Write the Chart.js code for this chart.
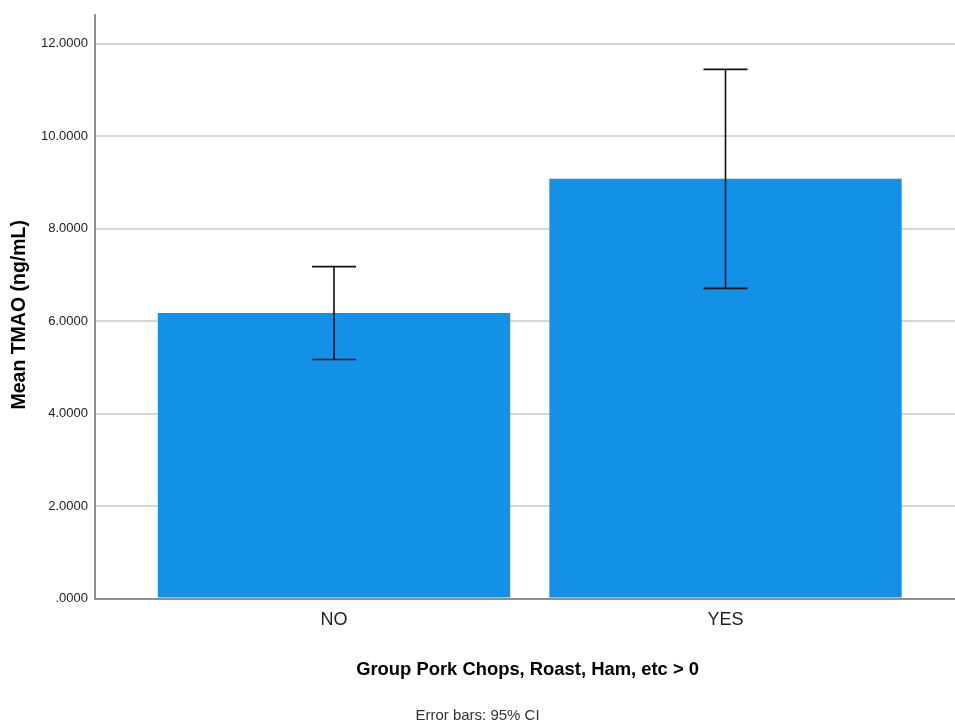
<!DOCTYPE html>
<html>
<head>
<meta charset="utf-8">
<script src="https://cdn.jsdelivr.net/npm/chart.js@4.4.1/dist/chart.umd.min.js"></script>
<style>
  body { margin: 0; background: #fff; }
  #wrap { width: 955px; height: 727px; position: relative; }
</style>
</head>
<body>
<div id="wrap"><canvas id="myChart"></canvas></div>
<script>
// data
const categories = ['NO', 'YES'];
const means = [6.18, 9.08];
const ciLower = [5.17, 6.71];
const ciUpper = [7.18, 11.45];
const yTicks = [0, 2, 4, 6, 8, 10, 12];

const plain = "'Liberation Sans', Arial, sans-serif";

// error bars with caps, drawn through the chart scales
const errorBars = {
  id: 'errorBars',
  afterDatasetsDraw(chart) {
    const ctx = chart.ctx;
    const xs = chart.scales.x, ys = chart.scales.y;
    ctx.save();
    ctx.strokeStyle = '#111';
    ctx.lineWidth = 1.6;
    categories.forEach((c, i) => {
      const x = xs.getPixelForValue(i);
      const hi = ys.getPixelForValue(ciUpper[i]);
      const lo = ys.getPixelForValue(ciLower[i]);
      ctx.beginPath();
      ctx.moveTo(x, hi); ctx.lineTo(x, lo);
      ctx.moveTo(x - 22, hi); ctx.lineTo(x + 22, hi);
      ctx.moveTo(x - 22, lo); ctx.lineTo(x + 22, lo);
      ctx.stroke();
    });
    ctx.restore();
  }
};

const data = {
  datasets: [{
    data: categories.map((c, i) => ({ x: i, y: means[i] })),
    backgroundColor: '#1391E6',
    borderWidth: 0,
    categoryPercentage: 1,
    barPercentage: 0.9
  }]
};

const config = {
  type: 'bar',
  data,
  options: {
    responsive: true,
    maintainAspectRatio: false,
    animation: false,
    events: [],
    layout: { padding: { top: 10, left: 0, right: 0, bottom: 0 } },
    plugins: {
      legend: { display: false },
      tooltip: { enabled: false },
      title: {
        display: true,
        position: 'bottom',
        text: 'Error bars: 95% CI',
        color: '#333',
        font: { family: plain, size: 15, weight: 'normal' },
        padding: { top: 0, bottom: 2 }
      }
    },
    scales: {
      x: {
        type: 'linear',
        min: -0.6105,
        max: 1.5862,
        offset: false,
        afterBuildTicks: (scale) => {
          scale.ticks = categories.map((c, i) => ({ value: i }));
        },
        afterFit: (scale) => { scale.height = 108.5; },
        grid: { display: false, drawTicks: false },
        border: { display: true, color: '#8f8f8f', width: 2 },
        ticks: {
          color: '#222',
          padding: 11,
          font: { family: plain, size: 18 },
          callback: (v) => categories[v]
        },
        title: {
          display: true,
          text: ' Group Pork Chops, Roast, Ham, etc > 0',
          color: '#000',
          font: { family: plain, size: 18.4, weight: 'bold' },
          padding: { top: 0, bottom: 26 }
        }
      },
      y: {
        min: 0,
        max: 12.63,
        afterBuildTicks: (scale) => {
          scale.ticks = yTicks.map(v => ({ value: v }));
        },
        afterFit: (scale) => { scale.width = 95; },
        grid: {
          drawTicks: false,
          lineWidth: 2,
          color: (ctx) => ctx.tick && ctx.tick.value === 0 ? 'rgba(0,0,0,0)' : '#d6d6d6'
        },
        border: { display: true, color: '#8f8f8f', width: 2 },
        ticks: {
          color: '#222',
          padding: 7,
          font: { family: plain, size: 13 },
          callback: (v) => v === 0 ? '.0000' : v.toFixed(4)
        },
        title: {
          display: true,
          text: 'Mean TMAO (ng/mL)   ',
          color: '#000',
          font: { family: plain, size: 19.5, weight: 'bold' },
          padding: { top: 8, bottom: 0 }
        }
      }
    }
  },
  plugins: [errorBars]
};

const myChart = new Chart(document.getElementById('myChart').getContext('2d'), config);
</script>
</body>
</html>
